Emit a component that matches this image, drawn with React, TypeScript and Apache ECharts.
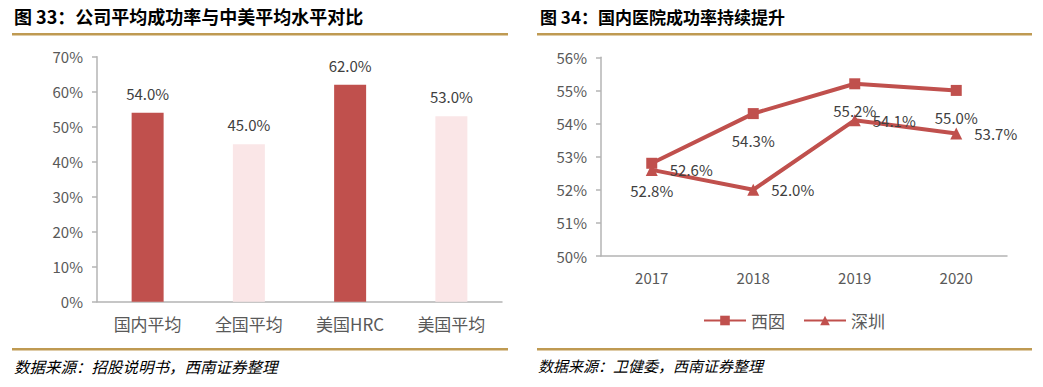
import React, { useEffect, useRef } from "react";
import * as echarts from "echarts";

const barCategories = ["国内平均", "全国平均", "美国HRC", "美国平均"];
const barValues = [54.0, 45.0, 62.0, 53.0];
const barHighlight = [true, false, true, false];

const years = ["2017", "2018", "2019", "2020"];
const xiyinValues = [52.8, 54.3, 55.2, 55.0];
const shenzhenValues = [52.6, 52.0, 54.1, 53.7];

const leftTitle = "图 33：公司平均成功率与中美平均水平对比";
const rightTitle = "图 34：国内医院成功率持续提升";
const leftSource = "数据来源：招股说明书，西南证券整理";
const rightSource = "数据来源：卫健委，西南证券整理";

const DARK = "#C0504D";
const PINK = "#FAE6E7";
const GOLD = "#BF9A52";
const AXIS = "#B4B4B4";
const LABEL = "#595959";
const DATA = "#404040";
const FONT = "'Noto Sans CJK SC', 'Noto Sans', sans-serif";

export default function App() {
  const ref = useRef<HTMLDivElement>(null);
  useEffect(() => {
    if (!ref.current) return;
    const chart = echarts.init(ref.current, null, { renderer: "svg" });
    chart.setOption({
      animation: false,
      textStyle: { fontFamily: FONT },
      graphic: [
        { type: "text", left: 14, top: 7, style: { text: leftTitle, fontSize: 18, fontWeight: "bold", fill: "#000", fontFamily: FONT } },
        { type: "text", left: 540, top: 8, style: { text: rightTitle, fontSize: 17, fontWeight: "bold", fill: "#000", fontFamily: FONT } },
        { type: "rect", shape: { x: 12, y: 33, width: 496, height: 2.5 }, style: { fill: GOLD } },
        { type: "rect", shape: { x: 537, y: 33, width: 495, height: 2.5 }, style: { fill: GOLD } },
        { type: "rect", shape: { x: 12, y: 348, width: 496, height: 2.5 }, style: { fill: GOLD } },
        { type: "rect", shape: { x: 537, y: 348, width: 495, height: 2.5 }, style: { fill: GOLD } },
        { type: "text", left: 14, top: 358, style: { text: leftSource, fontSize: 15.5, fontStyle: "italic", fill: "#000", fontFamily: FONT } },
        { type: "text", left: 538, top: 358, style: { text: rightSource, fontSize: 15, fontStyle: "italic", fill: "#000", fontFamily: FONT } },
      ],
      legend: {
        data: ["西囡", "深圳"],
        left: 698,
        top: 307,
        itemWidth: 42,
        itemHeight: 12,
        itemGap: 18,
        textStyle: { fontSize: 17, color: LABEL, fontFamily: FONT },
      },
      grid: [
        { left: 97, right: 541, top: 56.7, bottom: 85.3 },
        { left: 601, right: 36, top: 57.3, bottom: 131 },
      ],
      xAxis: [
        {
          type: "category",
          gridIndex: 0,
          data: barCategories,
          axisLine: { lineStyle: { color: AXIS, width: 1.5 } },
          axisTick: { show: false },
          axisLabel: { fontSize: 17, color: LABEL, margin: 13 },
        },
        {
          type: "category",
          gridIndex: 1,
          data: years,
          axisLine: { lineStyle: { color: AXIS, width: 1.5 } },
          axisTick: { show: false },
          axisLabel: { fontSize: 15, color: LABEL, margin: 14 },
        },
      ],
      yAxis: [
        {
          type: "value",
          gridIndex: 0,
          min: 0,
          max: 70,
          interval: 10,
          splitLine: { show: false },
          axisLine: { show: true, lineStyle: { color: AXIS, width: 1.5 } },
          axisTick: { show: true, length: 5, lineStyle: { color: AXIS, width: 1.5 } },
          axisLabel: { fontSize: 15, color: LABEL, formatter: "{value}%", margin: 14 },
        },
        {
          type: "value",
          gridIndex: 1,
          min: 50,
          max: 56,
          interval: 1,
          splitLine: { show: false },
          axisLine: { show: true, lineStyle: { color: AXIS, width: 1.5 } },
          axisTick: { show: true, length: 5, lineStyle: { color: AXIS, width: 1.5 } },
          axisLabel: { fontSize: 15, color: LABEL, formatter: "{value}%", margin: 14 },
        },
      ],
      series: [
        {
          type: "bar",
          xAxisIndex: 0,
          yAxisIndex: 0,
          barWidth: 32,
          data: barValues.map((v, i) => ({
            value: v,
            itemStyle: { color: barHighlight[i] ? DARK : PINK },
          })),
          label: {
            show: true,
            position: "top",
            distance: 12,
            fontSize: 15,
            color: DATA,
            formatter: (p: any) => p.value.toFixed(1) + "%",
          },
        },
        {
          name: "西囡",
          type: "line",
          xAxisIndex: 1,
          yAxisIndex: 1,
          data: xiyinValues,
          symbol: "rect",
          symbolSize: 11,
          lineStyle: { color: DARK, width: 4 },
          itemStyle: { color: DARK },
          label: {
            show: true,
            position: "bottom",
            distance: 14,
            fontSize: 15,
            color: DATA,
            formatter: (p: any) => p.value.toFixed(1) + "%",
          },
        },
        {
          name: "深圳",
          type: "line",
          xAxisIndex: 1,
          yAxisIndex: 1,
          data: shenzhenValues,
          symbol: "triangle",
          symbolSize: 12,
          lineStyle: { color: DARK, width: 4 },
          itemStyle: { color: DARK },
          label: {
            show: true,
            position: "right",
            distance: 12,
            fontSize: 15,
            color: DATA,
            formatter: (p: any) => p.value.toFixed(1) + "%",
          },
        },
      ],
    });
    return () => chart.dispose();
  }, []);
  return (
    <div
      ref={ref}
      style={{ position: "fixed", left: 0, top: 0, width: 1043, height: 387, background: "#fff" }}
    />
  );
}
